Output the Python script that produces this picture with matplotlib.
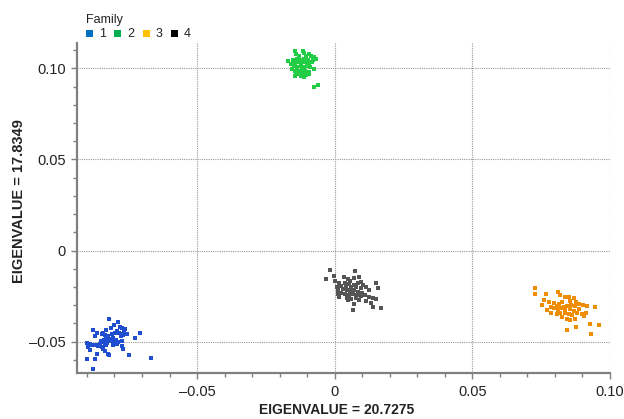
import matplotlib
matplotlib.use("Agg")
import matplotlib.pyplot as plt
from matplotlib.patches import Rectangle
from matplotlib.ticker import MultipleLocator, FuncFormatter

plt.rcParams['font.family'] = ['Liberation Sans', 'DejaVu Sans']

families = ["1", "2", "3", "4"]
legend_colors = ["#0070C0", "#00B050", "#FFC000", "#000000"]
point_colors = ["#1f4fd0", "#22cc44", "#f08c00", "#555555"]
x_label = "EIGENVALUE = 20.7275"
y_label = "EIGENVALUE = 17.8349"
legend_title = "Family"

fam1_x = [-0.0820, -0.0786, -0.0801, -0.0814, -0.0780, -0.0771, -0.0762, -0.0829, -0.0841, -0.0877,
          -0.0865, -0.0871, -0.0847, -0.0835, -0.0822, -0.0810, -0.0798, -0.0790, -0.0783, -0.0774,
          -0.0766, -0.0756, -0.0768, -0.0778, -0.0708, -0.0726, -0.0804, -0.0816, -0.0831, -0.0838,
          -0.0843, -0.0848, -0.0835, -0.0826, -0.0814, -0.0804, -0.0795, -0.0786, -0.0774, -0.0889,
          -0.0899, -0.0883, -0.0874, -0.0867, -0.0859, -0.0853, -0.0895, -0.0889, -0.0865, -0.0841,
          -0.0835, -0.0822, -0.0819, -0.0774, -0.0768, -0.0871, -0.0901, -0.0746, -0.0669, -0.0877,
          -0.0847, -0.0829, -0.0807, -0.0792]
fam1_y = [-0.0377, -0.0391, -0.0410, -0.0424, -0.0419, -0.0424, -0.0432, -0.0437, -0.0450, -0.0437,
          -0.0450, -0.0469, -0.0456, -0.0465, -0.0469, -0.0456, -0.0450, -0.0443, -0.0450, -0.0456,
          -0.0447, -0.0456, -0.0465, -0.0469, -0.0450, -0.0480, -0.0480, -0.0487, -0.0483, -0.0492,
          -0.0502, -0.0498, -0.0511, -0.0505, -0.0498, -0.0502, -0.0492, -0.0502, -0.0498, -0.0511,
          -0.0505, -0.0520, -0.0516, -0.0520, -0.0524, -0.0515, -0.0529, -0.0548, -0.0566, -0.0538,
          -0.0553, -0.0566, -0.0575, -0.0526, -0.0538, -0.0594, -0.0597, -0.0575, -0.0590, -0.0649,
          -0.0529, -0.0520, -0.0520, -0.0511]

fam2_x = [-0.0146, -0.0116, -0.0112, -0.0140, -0.0092, -0.0074, -0.0086, -0.0104, -0.0128, -0.0168,
          -0.0152, -0.0136, -0.0122, -0.0110, -0.0098, -0.0080, -0.0068, -0.0158, -0.0146, -0.0134,
          -0.0122, -0.0107, -0.0095, -0.0083, -0.0149, -0.0136, -0.0124, -0.0112, -0.0100, -0.0088,
          -0.0074, -0.0156, -0.0144, -0.0132, -0.0120, -0.0107, -0.0095, -0.0140, -0.0128, -0.0116,
          -0.0104, -0.0092, -0.0146, -0.0110, -0.0122, -0.0074, -0.0062]
fam2_y = [0.1097, 0.1097, 0.1084, 0.1079, 0.1079, 0.1060, 0.1066, 0.1069, 0.1066, 0.1042,
          0.1047, 0.1051, 0.1047, 0.1051, 0.1047, 0.1047, 0.1051, 0.1024, 0.1029, 0.1033,
          0.1029, 0.1033, 0.1029, 0.1033, 0.1011, 0.1005, 0.1011, 0.1005, 0.1011, 0.1005,
          0.0996, 0.0996, 0.0987, 0.0987, 0.0992, 0.0987, 0.0981, 0.0974, 0.0968, 0.0974,
          0.0963, 0.0968, 0.0959, 0.0950, 0.0956, 0.0900, 0.0908]

fam3_x = [0.0726, 0.0729, 0.0769, 0.0810, 0.0820, 0.0760, 0.0778, 0.0796, 0.0814, 0.0826,
          0.0838, 0.0850, 0.0856, 0.0868, 0.0878, 0.0832, 0.0844, 0.0859, 0.0874, 0.0886,
          0.0902, 0.0917, 0.0947, 0.0754, 0.0784, 0.0796, 0.0810, 0.0822, 0.0838, 0.0854,
          0.0868, 0.0886, 0.0784, 0.0806, 0.0820, 0.0835, 0.0850, 0.0862, 0.0880, 0.0899,
          0.0914, 0.0826, 0.0844, 0.0874, 0.0929, 0.0959, 0.0878, 0.0842, 0.0931, 0.0772,
          0.0808, 0.0856, 0.0905]
fam3_y = [-0.0208, -0.0239, -0.0239, -0.0226, -0.0244, -0.0272, -0.0281, -0.0290, -0.0294, -0.0281,
          -0.0257, -0.0254, -0.0276, -0.0263, -0.0281, -0.0309, -0.0305, -0.0300, -0.0305, -0.0294,
          -0.0300, -0.0305, -0.0312, -0.0300, -0.0309, -0.0318, -0.0327, -0.0318, -0.0327, -0.0323,
          -0.0331, -0.0323, -0.0342, -0.0349, -0.0342, -0.0345, -0.0349, -0.0355, -0.0345, -0.0349,
          -0.0342, -0.0364, -0.0373, -0.0373, -0.0401, -0.0410, -0.0419, -0.0434, -0.0459, -0.0327,
          -0.0305, -0.0382, -0.0360]

fam4_x = [-0.0016, 0.0074, -0.0031, -0.0004, 0.0001, 0.0033, 0.0047, 0.0057, 0.0071, 0.0089,
          0.0095, 0.0017, 0.0037, 0.0053, 0.0069, 0.0083, 0.0101, 0.0023, 0.0041, 0.0059,
          0.0077, 0.0095, 0.0114, 0.0150, 0.0156, 0.0013, 0.0029, 0.0045, 0.0057, 0.0069,
          0.0083, 0.0098, 0.0126, 0.0011, 0.0023, 0.0037, 0.0053, 0.0065, 0.0081, 0.0095,
          0.0110, 0.0126, 0.0017, 0.0045, 0.0059, 0.0077, 0.0089, 0.0114, 0.0138, 0.0150,
          0.0132, 0.0071, 0.0047, 0.0065, 0.0168, 0.0138, 0.0008]
fam4_y = [-0.0107, -0.0110, -0.0158, -0.0140, -0.0165, -0.0143, -0.0158, -0.0165, -0.0153, -0.0147,
          -0.0171, -0.0176, -0.0180, -0.0184, -0.0189, -0.0180, -0.0189, -0.0195, -0.0198, -0.0202,
          -0.0202, -0.0208, -0.0202, -0.0176, -0.0208, -0.0217, -0.0213, -0.0217, -0.0221, -0.0217,
          -0.0226, -0.0232, -0.0217, -0.0239, -0.0235, -0.0239, -0.0244, -0.0239, -0.0244, -0.0250,
          -0.0244, -0.0257, -0.0257, -0.0263, -0.0268, -0.0263, -0.0272, -0.0276, -0.0263, -0.0268,
          -0.0287, -0.0294, -0.0272, -0.0327, -0.0318, -0.0309, -0.0202]

series = [(fam1_x, fam1_y), (fam2_x, fam2_y), (fam3_x, fam3_y), (fam4_x, fam4_y)]

fig = plt.figure(figsize=(6.24, 4.19), dpi=100)
ax = fig.add_axes([0.1234, 0.1098, 0.8542, 0.7876])

for (xs, ys), c in zip(series, point_colors):
    ax.scatter(xs, ys, s=5, marker='s', color=c, linewidths=0, zorder=3)

ax.set_xlim(-0.0936, 0.1)
ax.set_ylim(-0.0672, 0.1139)

ax.xaxis.set_major_locator(MultipleLocator(0.05))
ax.xaxis.set_minor_locator(MultipleLocator(0.01))
ax.yaxis.set_major_locator(MultipleLocator(0.05))
ax.yaxis.set_minor_locator(MultipleLocator(0.01))

def fmt(v, pos):
    if abs(v) < 1e-9:
        return "0"
    s = "%.2f" % v
    return s.replace("-", "\u2013")

ax.xaxis.set_major_formatter(FuncFormatter(fmt))
ax.yaxis.set_major_formatter(FuncFormatter(fmt))

for sp in ['top', 'right']:
    ax.spines[sp].set_visible(False)
for sp in ['left', 'bottom']:
    ax.spines[sp].set_color('#808080')
    ax.spines[sp].set_linewidth(1.6)

ax.tick_params(which='major', length=4, width=1, color='#808080', labelsize=10.5,
               labelcolor='#222222')
ax.tick_params(axis='y', which='major', pad=4)
ax.tick_params(axis='x', which='major', pad=5)
ax.tick_params(which='minor', length=3, width=1, color='#808080')

ax.grid(True, which='major', linestyle=(0, (1, 1)), color='#999999', linewidth=0.8, zorder=0)
ax.set_axisbelow(True)

ax.set_xlabel(x_label, fontsize=10, fontweight='bold', color='#222222')
ax.set_ylabel(y_label, fontsize=10.5, fontweight='bold', color='#222222')
ax.xaxis.set_label_coords(0.488, -0.09)
ax.yaxis.set_label_coords(-0.0957, 0.52)

# legend
fig.text(86 / 624, 1 - 20 / 419, legend_title, fontsize=9, va='center', ha='left', color='#222222')
sq_x = [86, 114, 143, 171]
for i, (lab, c) in enumerate(zip(families, legend_colors)):
    x0 = sq_x[i] / 624
    fig.add_artist(Rectangle((x0, 1 - 37.5 / 419), 7 / 624, 7 / 419, transform=fig.transFigure,
                             facecolor=c, edgecolor='none'))
    fig.text((sq_x[i] + 13) / 624, 1 - 34 / 419, lab, fontsize=9, va='center', ha='left',
             color='#222222')

fig.savefig("out.png", dpi=100)
